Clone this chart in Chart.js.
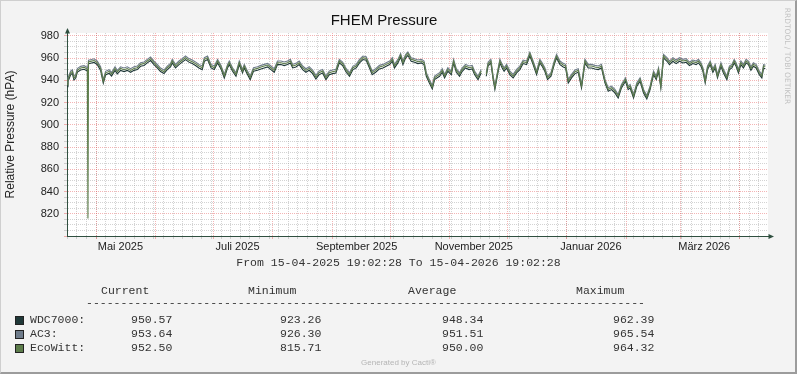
<!DOCTYPE html>
<html>
<head>
<meta charset="utf-8">
<script src="https://cdn.jsdelivr.net/npm/chart.js@4.4.1/dist/chart.umd.min.js"></script>
<style>
  html, body { margin: 0; padding: 0; background: #f3f3f3; }
  #wrap { position: relative; width: 797px; height: 374px; overflow: hidden; background: #f3f3f3; }
  #wrap canvas { position: absolute; left: 0; top: 0; }
  #frame { position: absolute; left: 0; top: 0; right: 0; bottom: 0; box-sizing: border-box;
           border-top: 1px solid #cfcfcf; border-left: 1px solid #cfcfcf;
           border-right: 2px solid #9c9c9c; border-bottom: 2px solid #9c9c9c; pointer-events: none; }
  .t { position: absolute; white-space: pre; font-family: "Liberation Mono", monospace; font-size: 11.5px;
       line-height: 14px; color: #333; }
  .sq { position: absolute; width: 7px; height: 7px; border: 1px solid #222; }
  #cacti { position: absolute; left: 0; width: 797px; text-align: center; font-family: "Liberation Sans", sans-serif;
           font-size: 8px; color: #b5b5b5; top: 358px; }
  #rrd { position: absolute; font-family: "DejaVu Sans", sans-serif; font-size: 7.5px; color: #c2c2c2;
         white-space: pre; transform: translate(-50%, -50%) rotate(90deg); left: 787px; top: 56px; }
</style>
</head>
<body>
<div id="wrap">
  <canvas id="c" width="797" height="374"></canvas>
  <div id="legend"></div>
  <div id="cacti">Generated by Cacti®</div>
  <div id="rrd">RRDTOOL / TOBI OETIKER</div>
  <div id="frame"></div>
</div>
<script>
/* Zeitraum: 15-04-2025 19:02:28 bis 15-04-2026 19:02:28, x in Tagen ab Start */
const startTime = Date.UTC(2025, 3, 15, 19, 2, 28);
const spanDays = 365;

const days = [
  0, 0.5, 1.9, 2.8, 3.6, 4.5, 5.4, 7.1, 8.9, 10.6,
  10.9, 11.2, 12.3, 14.1, 15.8, 17.5, 18.9, 20.1, 21.9, 23.2,
  25.0, 26.2, 27.9, 29.7, 31.4, 33.1, 34.9, 36.6, 38.3, 40.1,
  41.8, 43.5, 45.3, 47.0, 48.7, 50.5, 52.2, 53.9, 54.8, 56.5,
  58.3, 60.0, 61.7, 63.5, 65.2, 66.9, 68.7, 70.4, 71.5, 73.2,
  75.0, 76.7, 78.4, 80.2, 81.9, 83.6, 84.5, 86.2, 88.0, 89.7,
  91.4, 92.3, 93.7, 95.4, 97.1, 99.2, 101.0, 102.7, 104.4, 106.2,
  107.9, 109.6, 111.4, 113.1, 114.8, 116.3, 117.5, 119.2, 120.9, 122.7,
  124.4, 126.1, 127.9, 129.6, 131.3, 133.1, 134.8, 136.6, 138.3, 140.0,
  141.8, 143.5, 145.4, 147.1, 148.9, 150.6, 152.3, 154.1, 155.8, 157.5,
  158.9, 160.7, 162.7, 164.5, 166.2, 168.0, 169.4, 170.5, 172.3, 173.7,
  174.9, 176.3, 177.5, 179.2, 181.0, 182.7, 184.5, 185.9, 187.1, 188.5,
  190.2, 191.4, 192.6, 194.0, 195.4, 196.6, 198.3, 200.1, 201.3, 202.7,
  204.4, 205.8, 207.5, 209.3, 211.0, 212.2, 214.0, 215.7, 217.0, 218.3,
  219.3, 220.7, 221.9, 222.8, 224.2, 225.4, 226.6, 227.6, 228.9, 230.6,
  232.3, 234.1, 235.8, 237.5, 239.3, 241.0, 242.7, 244.5, 246.2, 247.4,
  248.8, 250.2, 252.0, 253.7, 254.9, 256.7, 258.4, 259.6, 261.0, 262.7,
  264.5, 266.2, 267.9, 269.7, 271.4, 273.1, 274.9, 276.6, 278.3, 280.1,
  281.8, 283.5, 285.3, 287.0, 288.7, 290.8, 292.2, 293.2, 295.0, 296.7,
  298.4, 300.2, 301.9, 303.6, 305.4, 306.8, 308.0, 309.2, 310.6, 312.4,
  313.7, 315.5, 317.2, 318.9, 320.7, 322.4, 324.1, 325.9, 327.6, 328.8,
  330.1, 331.1, 332.3, 333.5, 334.9, 336.3, 337.5, 338.7, 340.5, 341.8,
  343.6, 344.9, 346.2, 347.4, 348.4, 349.6, 350.9, 352.2, 353.6, 354.8,
  356.1, 357.4, 358.8, 360.5, 361.8, 362.7, 363.6
];

const wdc7000 = [
  934.3, 938.9, 945.0, 946.3, 940.3, 941.8, 947.3, 949.3, 949.9, 948.3,
  948.6, 954.8, 955.3, 956.1, 954.0, 948.9, 937.3, 944.8, 946.3, 943.8,
  948.9, 945.8, 948.9, 947.8, 948.9, 947.2, 948.9, 949.6, 952.6, 953.3,
  955.6, 957.7, 954.1, 951.1, 947.8, 946.0, 949.6, 952.0, 955.6, 951.1,
  954.1, 956.3, 958.6, 956.3, 955.0, 953.3, 951.1, 949.6, 957.1, 958.6,
  951.1, 949.6, 955.6, 950.2, 942.1, 951.1, 954.1, 948.1, 943.6, 954.1,
  946.6, 951.1, 946.0, 940.6, 948.1, 949.0, 950.2, 951.1, 952.0, 949.6,
  947.2, 954.1, 954.1, 953.2, 954.1, 955.6, 951.1, 952.0, 954.1, 949.6,
  947.2, 949.0, 946.0, 941.2, 945.1, 946.6, 940.6, 945.1, 946.0, 946.6,
  955.6, 953.2, 947.2, 943.6, 949.6, 951.1, 955.6, 958.6, 958.0, 951.1,
  945.1, 947.2, 950.2, 951.1, 952.6, 954.1, 957.1, 951.1, 955.6, 960.9,
  954.1, 960.0, 962.4, 957.1, 956.2, 955.0, 955.6, 954.1, 943.6, 938.2,
  932.2, 940.6, 942.1, 943.6, 947.2, 942.1, 948.1, 945.1, 955.6, 947.2,
  943.6, 948.1, 951.1, 949.6, 950.2, 945.1, 940.6, 946.6, null, 943.6,
  953.3, 955.6, 940.6, 931.8, 945.1, 955.6, 951.1, 948.1, 951.1, 945.1,
  942.1, 946.6, 949.6, 955.0, 954.1, 962.1, 954.1, 945.1, 955.6, 952.6,
  948.1, 940.6, 943.6, 954.1, 960.1, 954.1, 952.0, 951.1, 937.6, 942.1,
  946.0, 947.2, 933.1, 955.6, 951.1, 951.1, 950.2, 949.6, 951.1, 937.6,
  930.1, 931.6, 928.6, 924.1, 933.1, 939.1, 931.6, 933.1, 924.1, 934.6,
  939.1, 928.6, 923.3, 931.6, 945.1, 940.6, 948.1, 933.1, 960.1, 957.1,
  954.1, 957.1, 955.0, 957.1, 955.6, 956.2, 953.2, 955.0, 954.1, 955.6,
  952.6, 948.1, 937.6, 949.6, 954.1, 947.2, 951.1, 942.1, 952.6, 946.6,
  940.6, 949.6, 951.1, 955.6, 952.6, 946.6, 954.1, 951.1, 955.6, 954.1,
  949.0, 952.6, 951.1, 945.1, 942.1, 950.9, 950.6
];

const ac3 = [
  937.5, 942.1, 948.2, 949.5, 943.5, 945.0, 950.5, 952.5, 953.1, 951.5,
  951.9, 958.0, 958.5, 959.3, 957.2, 952.1, 940.5, 948.0, 949.5, 947.0,
  952.1, 949.0, 952.1, 951.0, 952.1, 950.4, 952.1, 952.8, 955.8, 956.5,
  958.8, 960.9, 957.3, 954.3, 951.0, 949.2, 952.8, 955.2, 958.8, 954.3,
  957.3, 959.5, 961.8, 959.5, 958.2, 956.5, 954.3, 952.8, 960.3, 961.8,
  954.3, 952.8, 958.8, 953.4, 945.3, 954.3, 957.3, 951.3, 946.8, 957.3,
  949.8, 954.3, 949.2, 943.8, 951.3, 952.2, 953.4, 954.3, 955.2, 952.8,
  950.4, 957.3, 957.3, 956.4, 957.3, 958.8, 954.3, 955.2, 957.3, 952.8,
  950.4, 952.2, 949.2, 944.4, 948.3, 949.8, 943.8, 948.3, 949.2, 949.8,
  958.8, 956.4, 950.4, 946.8, 952.8, 954.3, 958.8, 961.8, 961.2, 954.3,
  948.3, 950.4, 953.4, 954.3, 955.8, 957.3, 960.3, 954.3, 958.8, 964.0,
  957.3, 963.1, 965.5, 960.3, 959.4, 958.2, 958.8, 957.3, 946.8, 941.4,
  935.4, 943.8, 945.3, 946.8, 950.4, 945.3, 951.3, 948.3, 958.8, 950.4,
  946.8, 951.3, 954.3, 952.8, 953.4, 948.3, 943.8, 949.8, null, 946.8,
  956.5, 958.8, 943.8, 935.0, 948.3, 958.8, 954.3, 951.3, 954.3, 948.3,
  945.3, 949.8, 952.8, 958.2, 957.3, 965.2, 957.3, 948.3, 958.8, 955.8,
  951.3, 943.8, 946.8, 957.3, 963.2, 957.3, 955.2, 954.3, 940.8, 945.3,
  949.2, 950.4, 936.3, 958.8, 954.3, 954.3, 953.4, 952.8, 954.3, 940.8,
  933.3, 934.8, 931.8, 927.2, 936.3, 942.3, 934.8, 936.3, 927.2, 937.8,
  942.3, 931.8, 926.3, 934.8, 948.3, 943.8, 951.3, 936.3, 963.2, 960.3,
  957.3, 960.3, 958.2, 960.3, 958.8, 959.4, 956.4, 958.2, 957.3, 958.8,
  955.8, 951.3, 940.8, 952.8, 957.3, 950.4, 954.3, 945.3, 955.8, 949.8,
  943.8, 952.8, 954.3, 958.8, 955.8, 949.8, 957.3, 954.3, 958.8, 957.3,
  952.2, 955.8, 954.3, 948.3, 945.3, 954.0, 953.6
];

const ecoWitt = [
  936.0, 940.6, 946.7, 948.0, 942.0, 943.5, 949.0, 951.0, 951.6, 950.0,
  815.7, 956.5, 957.0, 957.8, 955.7, 950.6, 939.0, 946.5, 948.0, 945.5,
  950.6, 947.5, 950.6, 949.5, 950.6, 948.9, 950.6, 951.3, 954.3, 955.0,
  957.3, 959.4, 955.8, 952.8, 949.5, 947.7, 951.3, 953.7, 957.3, 952.8,
  955.8, 958.0, 960.3, 958.0, 956.7, 955.0, 952.8, 951.3, 958.8, 960.3,
  952.8, 951.3, 957.3, 951.9, 943.8, 952.8, 955.8, 949.8, 945.3, 955.8,
  948.3, 952.8, 947.7, 942.3, 949.8, 950.7, 951.9, 952.8, 953.7, 951.3,
  948.9, 955.8, 955.8, 954.9, 955.8, 957.3, 952.8, 953.7, 955.8, 951.3,
  948.9, 950.7, 947.7, 942.9, 946.8, 948.3, 942.3, 946.8, 947.7, 948.3,
  957.3, 954.9, 948.9, 945.3, 951.3, 952.8, 957.3, 960.3, 959.7, 952.8,
  946.8, 948.9, 951.9, 952.8, 954.3, 955.8, 958.8, 952.8, 957.3, 962.7,
  955.8, 961.8, 964.3, 958.8, 957.9, 956.7, 957.3, 955.8, 945.3, 939.9,
  933.9, 942.3, 943.8, 945.3, 948.9, 943.8, 949.8, 946.8, 957.3, 948.9,
  945.3, 949.8, 952.8, 951.3, 951.9, 946.8, 942.3, 948.3, null, 945.3,
  955.0, 957.3, 942.3, 933.5, 946.8, 957.3, 952.8, 949.8, 952.8, 946.8,
  943.8, 948.3, 951.3, 956.7, 955.8, 963.9, 955.8, 946.8, 957.3, 954.3,
  949.8, 942.3, 945.3, 955.8, 961.8, 955.8, 953.7, 952.8, 939.3, 943.8,
  947.7, 948.9, 934.8, 957.3, 952.8, 952.8, 951.9, 951.3, 952.8, 939.3,
  931.8, 933.3, 930.3, 925.8, 934.8, 940.8, 933.3, 934.8, 925.8, 936.3,
  940.8, 930.3, 924.9, 933.3, 946.8, 942.3, 949.8, 934.8, 961.8, 958.8,
  955.8, 958.8, 956.7, 958.8, 957.3, 957.9, 954.9, 956.7, 955.8, 957.3,
  954.3, 949.8, 939.3, 951.3, 955.8, 948.9, 952.8, 943.8, 954.3, 948.3,
  942.3, 951.3, 952.8, 957.3, 954.3, 948.3, 955.8, 952.8, 957.3, 955.8,
  950.7, 954.3, 952.8, 946.8, 943.8, 952.8, 952.5
];

/* Achsenbeschriftung: alle zwei Monate, Monatsanfang rot, Nebenraster alle 5 Tage */
const axisMonths = [[2025, 4], [2025, 6], [2025, 8], [2025, 10], [2026, 0], [2026, 2]];
const axisLabels = ['Mai 2025', 'Juli 2025', 'September 2025', 'November 2025', 'Januar 2026', 'März 2026'];
const labelShiftDays = 12.6;
const minorStepDays = 5;

/* Legende */
const seriesNames = ['WDC7000:', 'AC3:', 'EcoWitt:'];
const seriesColors = ['#1f3838', '#6f7c8b', '#5c7c4a'];
const colHeads = ['Current', 'Minimum', 'Average', 'Maximum'];
const curVals = ['950.57', '953.64', '952.50'];
const minVals = ['923.26', '926.30', '815.71'];
const avgVals = ['948.34', '951.51', '950.00'];
const maxVals = ['962.39', '965.54', '964.32'];

const RED = 'rgba(230, 90, 90, 0.45)';
const GRAY = 'rgba(150, 150, 150, 0.42)';
const AXIS = '#2f4f3f';

const dayOf = (y, m, d) => (Date.UTC(y, m, d) - startTime) / 86400000;

// Ticks für die x-Achse zusammenbauen
function buildXTicks() {
    let t = [];
    for (let v = dayOf(2025, 3, 16); v < spanDays; v += minorStepDays) t.push({ value: v, kind: 'minor' });
    for (let i = 0; i < 12; i++) {
        const v = dayOf(2025, 4 + i, 1);
        if (v > 0 && v < spanDays) t.push({ value: v, kind: 'major' });
    }
    axisMonths.forEach((ym, i) => t.push({ value: dayOf(ym[0], ym[1], 1) + labelShiftDays, kind: 'label', text: axisLabels[i] }));
    return t.sort((a, b) => a.value - b.value);
}

const toPoints = (arr) => arr.map((v, i) => ({ x: days[i], y: v }));

const gridColor = (c) => c.tick.kind === 'major' ? RED : (c.tick.kind === 'minor' ? GRAY : 'rgba(0,0,0,0)');

const plotBg = {
    id: 'plotBg',
    beforeDraw(chart) {
        const { ctx, chartArea: a } = chart;
        ctx.save();
        ctx.fillStyle = '#ffffff';
        ctx.fillRect(a.left, a.top, a.right - a.left, a.bottom - a.top);
        ctx.restore();
    }
};

// Pfeile an den Achsenenden wie bei rrdtool
const axisArrows = {
    id: 'axisArrows',
    afterDraw(chart) {
        const { ctx, chartArea: a } = chart;
        const x0 = Math.round(a.left) + 0.5, y0 = Math.round(a.bottom) + 0.5;
        ctx.save();
        ctx.fillStyle = AXIS;
        ctx.beginPath();
        ctx.moveTo(x0, a.top - 5); ctx.lineTo(x0 - 2.5, a.top + 0.5); ctx.lineTo(x0 + 2.5, a.top + 0.5);
        ctx.closePath(); ctx.fill();
        ctx.beginPath();
        ctx.moveTo(a.right + 6, y0); ctx.lineTo(a.right + 0.5, y0 - 2.5); ctx.lineTo(a.right + 0.5, y0 + 2.5);
        ctx.closePath(); ctx.fill();
        ctx.restore();
    }
};

new Chart(document.getElementById('c'), {
    type: 'line',
    data: {
        datasets: [
            { label: 'WDC7000', data: toPoints(wdc7000), borderColor: seriesColors[0], order: 3 },
            { label: 'AC3', data: toPoints(ac3), borderColor: seriesColors[1], order: 2 },
            { label: 'EcoWitt', data: toPoints(ecoWitt), borderColor: seriesColors[2], order: 1 }
        ]
    },
    options: {
        responsive: false, animation: false, devicePixelRatio: 1,
        parsing: true, spanGaps: false,
        elements: { point: { radius: 0 }, line: { borderWidth: 1.1, tension: 0 } },
        layout: { padding: { left: 0, right: 29, top: 0, bottom: 118 } },
        plugins: {
            legend: { display: false }, tooltip: { enabled: false },
            title: {
                display: true, text: 'FHEM Pressure', color: '#111',
                font: { family: 'Liberation Sans', size: 15, weight: 'normal' },
                padding: { top: 12, bottom: 3 }
            }
        },
        scales: {
            x: {
                type: 'linear', min: 0, max: spanDays,
                afterBuildTicks: (s) => { s.ticks = buildXTicks(); },
                afterFit: (s) => { s.height = 20; },
                ticks: {
                    autoSkip: false, maxRotation: 0, padding: 1, color: '#222',
                    font: { family: 'Liberation Sans', size: 11 },
                    callback: (v, i, t) => t[i].text || ''
                },
                grid: { color: gridColor, tickColor: gridColor, lineWidth: (c) => c.tick.kind === 'label' ? 0 : 1, tickLength: 3 },
                border: { color: AXIS, width: 1, dash: [1, 1] }
            },
            y: {
                type: 'linear', min: 800, max: 982.5,
                afterFit: (s) => { s.width = 67; },
                ticks: {
                    stepSize: 5, includeBounds: false, autoSkip: false, padding: 5, color: '#222',
                    font: { family: 'Liberation Sans', size: 11 },
                    callback: (v) => (v % 20 === 0 && v > 800) ? v : ''
                },
                grid: {
                    color: (c) => c.tick.value % 20 === 0 ? RED : GRAY,
                    tickColor: (c) => c.tick.value % 20 === 0 ? RED : GRAY,
                    tickLength: 3
                },
                border: { color: AXIS, width: 1, dash: [1, 1] },
                title: {
                    display: true, text: 'Relative Pressure (hPA)', color: '#222',
                    font: { family: 'Liberation Sans', size: 12 }, padding: { top: 3, bottom: 0 }
                }
            }
        }
    },
    plugins: [plotBg, axisArrows]
});

/* Legende als Text unter dem Diagramm */
const legend = document.getElementById('legend');
const addText = (txt, x, cy, extra) => {
    const d = document.createElement('div');
    d.className = 't';
    d.textContent = txt;
    d.style.left = x + 'px';
    d.style.top = (cy - 7) + 'px';
    if (extra) Object.assign(d.style, extra);
    legend.appendChild(d);
    return d;
};
addText('From 15-04-2025 19:02:28 To 15-04-2026 19:02:28', 0, 263, { width: '797px', textAlign: 'center', left: '0px' });
const headX = [101, 248, 408, 576];
const valX = [131, 280, 442, 613];
colHeads.forEach((h, i) => addText(h, headX[i], 291));
addText('-'.repeat(81), 86, 303);
const rowY = [319.5, 333.5, 347.5];
seriesNames.forEach((n, r) => {
    const sq = document.createElement('div');
    sq.className = 'sq';
    sq.style.left = '15px';
    sq.style.top = (rowY[r] - 4) + 'px';
    sq.style.background = seriesColors[r];
    legend.appendChild(sq);
    addText(n, 30, rowY[r]);
    [curVals, minVals, avgVals, maxVals].forEach((col, c) => addText(col[r], valX[c], rowY[r]));
});
</script>
</body>
</html>
